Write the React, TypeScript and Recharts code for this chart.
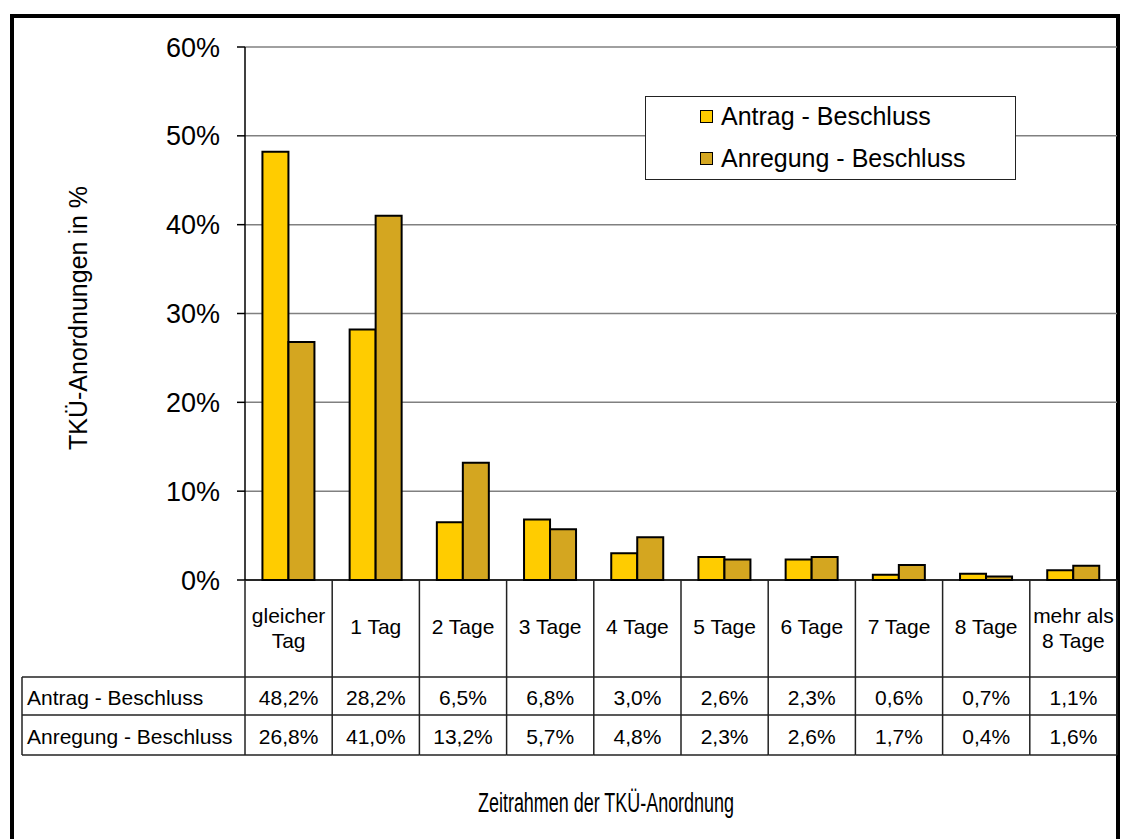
import { Bar, BarChart, CartesianGrid, Customized, Legend, XAxis, YAxis } from 'recharts';

const categories = ['gleicher Tag', '1 Tag', '2 Tage', '3 Tage', '4 Tage', '5 Tage', '6 Tage', '7 Tage', '8 Tage', 'mehr als 8 Tage'];
const categoryLines = [['gleicher', 'Tag'], ['1 Tag'], ['2 Tage'], ['3 Tage'], ['4 Tage'], ['5 Tage'], ['6 Tage'], ['7 Tage'], ['8 Tage'], ['mehr als', '8 Tage']];
const antrag = [48.2, 28.2, 6.5, 6.8, 3.0, 2.6, 2.3, 0.6, 0.7, 1.1];
const anregung = [26.8, 41.0, 13.2, 5.7, 4.8, 2.3, 2.6, 1.7, 0.4, 1.6];
const yTicks = [0, 10, 20, 30, 40, 50, 60];
const seriesNames = ['Antrag - Beschluss', 'Anregung - Beschluss'];
const seriesColors = ['#FFCC00', '#D4A620'];

const data = categories.map((c, i) => ({ name: c, antrag: antrag[i], anregung: anregung[i] }));

const W = 1121;
const H = 839;
const PLOT_LEFT = 245;
const PLOT_RIGHT = 1117;
const PLOT_BOTTOM = 580;
const COL_W = (PLOT_RIGHT - PLOT_LEFT) / categories.length;
const ROW1 = 677;
const ROW2 = 715;
const TABLE_BOTTOM = 755;
const TABLE_LEFT = 22;
const LINE = '#222';

const fmt = (v: number) => v.toFixed(1).replace('.', ',') + '%';

function TableTick(props: any) {
  const { x, index } = props;
  const left = x - COL_W / 2;
  const right = x + COL_W / 2;
  const lines = categoryLines[index];
  const last = index === categories.length - 1;
  return (
    <g fontSize={21} fill="#000">
      <line x1={left} y1={PLOT_BOTTOM} x2={left} y2={TABLE_BOTTOM} stroke={LINE} strokeWidth={1.5} />
      {last && <line x1={right} y1={PLOT_BOTTOM} x2={right} y2={TABLE_BOTTOM} stroke={LINE} strokeWidth={1.5} />}
      <line x1={left} y1={ROW1} x2={right} y2={ROW1} stroke={LINE} strokeWidth={1.5} />
      <line x1={left} y1={ROW2} x2={right} y2={ROW2} stroke={LINE} strokeWidth={1.5} />
      <line x1={left} y1={TABLE_BOTTOM} x2={right} y2={TABLE_BOTTOM} stroke={LINE} strokeWidth={1.5} />
      {lines.length === 1 ? (
        <text x={x} y={634} textAnchor="middle" fill="#000">{lines[0]}</text>
      ) : (
        lines.map((l, k) => (
          <text key={k} x={x} y={623 + k * 25} textAnchor="middle" fill="#000">{l}</text>
        ))
      )}
      <text x={x} y={705} textAnchor="middle" fill="#000">{fmt(antrag[index])}</text>
      <text x={x} y={744} textAnchor="middle" fill="#000">{fmt(anregung[index])}</text>
      {index === 0 && (
        <g>
          <line x1={TABLE_LEFT} y1={ROW1} x2={left} y2={ROW1} stroke={LINE} strokeWidth={1.5} />
          <line x1={TABLE_LEFT} y1={ROW2} x2={left} y2={ROW2} stroke={LINE} strokeWidth={1.5} />
          <line x1={TABLE_LEFT} y1={TABLE_BOTTOM} x2={left} y2={TABLE_BOTTOM} stroke={LINE} strokeWidth={1.5} />
          <line x1={TABLE_LEFT} y1={ROW1} x2={TABLE_LEFT} y2={TABLE_BOTTOM} stroke={LINE} strokeWidth={1.5} />
          <text x={TABLE_LEFT + 5} y={705} fill="#000">{seriesNames[0]}</text>
          <text x={TABLE_LEFT + 5} y={744} fill="#000">{seriesNames[1]}</text>
        </g>
      )}
    </g>
  );
}

function LegendBox() {
  return (
    <div
      style={{
        width: 371,
        height: 84,
        boxSizing: 'border-box',
        border: '1.5px solid #222',
        background: '#fff',
        fontSize: 25,
        color: '#000',
        position: 'relative',
      }}
    >
      {seriesNames.map((n, i) => (
        <div key={n} style={{ position: 'absolute', left: 54, top: 3 + i * 42, height: 32, display: 'flex', alignItems: 'center' }}>
          <span style={{ width: 11, height: 11, background: seriesColors[i], border: '1.5px solid #000', marginRight: 8 }} />
          <span>{n}</span>
        </div>
      ))}
    </div>
  );
}

function Titles() {
  return (
    <g fill="#000">
      <text x={78} y={318} transform="rotate(-90 78 318)" textAnchor="middle" dominantBaseline="central" fontSize={25}>
        TKÜ-Anordnungen in %
      </text>
      <text x={478} y={812} fontSize={27} textLength={256} lengthAdjust="spacingAndGlyphs">
        Zeitrahmen der TKÜ-Anordnung
      </text>
    </g>
  );
}

export default function App() {
  return (
    <div style={{ position: 'absolute', left: 0, top: 0, width: W, height: H, overflow: 'hidden', background: '#fff', fontFamily: '"Liberation Sans", Arial, sans-serif' }}>
      <div style={{ position: 'absolute', left: 10, top: 14, width: 1110, height: 900, border: '4px solid #000', boxSizing: 'border-box' }} />
      <div style={{ position: 'absolute', left: 0, top: 0 }}>
        <BarChart width={W} height={H} data={data} margin={{ top: 47, right: W - PLOT_RIGHT, bottom: 0, left: PLOT_LEFT - 90 }} barCategoryGap="20%" barGap={0}>
          <CartesianGrid vertical={false} stroke="#808080" strokeWidth={1.5} />
          <XAxis
            dataKey="name"
            height={H - PLOT_BOTTOM}
            interval={0}
            tickLine={false}
            tickSize={0}
            tickMargin={0}
            axisLine={{ stroke: '#000', strokeWidth: 1.5 }}
            tick={<TableTick />}
          />
          <YAxis
            width={90}
            domain={[0, 60]}
            ticks={yTicks}
            tickFormatter={(v: number) => `${v}%`}
            tickSize={8}
            tickMargin={17}
            tick={{ fill: '#000', fontSize: 27 }}
            axisLine={{ stroke: '#000', strokeWidth: 1.5 }}
            tickLine={{ stroke: '#000', strokeWidth: 1.5 }}
          />
          <Legend
            layout="horizontal"
            verticalAlign="middle"
            align="center"
            content={<LegendBox />}
            wrapperStyle={{ position: 'absolute', left: 645, top: 96, width: 371, height: 84 }}
          />
          <Bar dataKey="antrag" name={seriesNames[0]} fill={seriesColors[0]} stroke="#000" strokeWidth={2} isAnimationActive={false} />
          <Bar dataKey="anregung" name={seriesNames[1]} fill={seriesColors[1]} stroke="#000" strokeWidth={2} isAnimationActive={false} />
          <Customized component={<Titles />} />
        </BarChart>
      </div>
    </div>
  );
}
